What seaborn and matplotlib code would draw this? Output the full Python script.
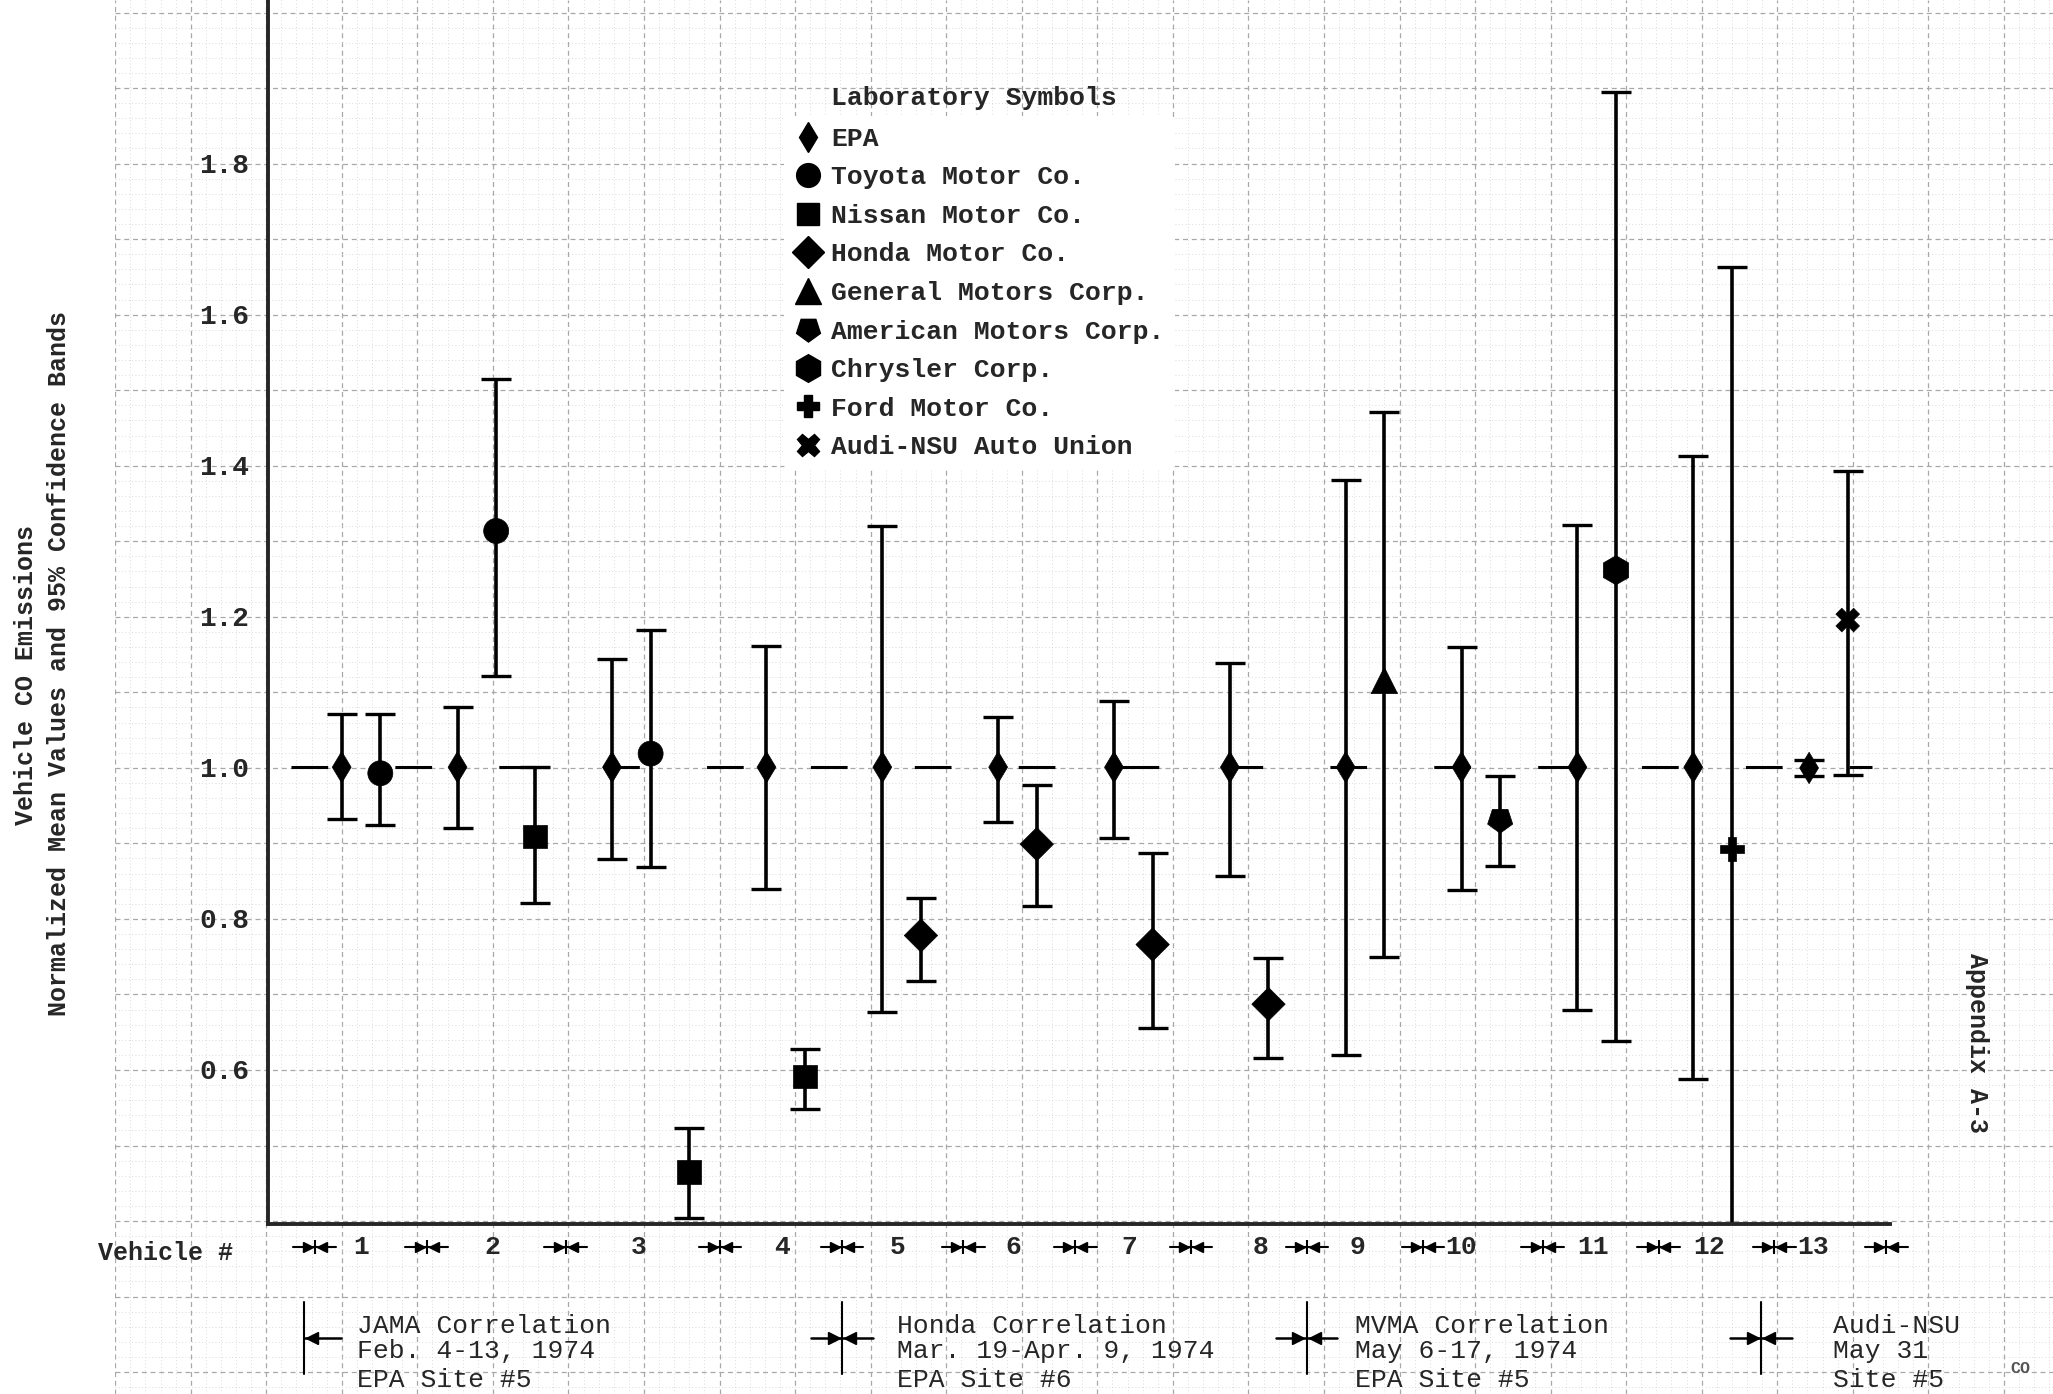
import numpy as np
import pandas as pd
import seaborn as sns
import matplotlib.pyplot as plt
from matplotlib.lines import Line2D
from matplotlib import transforms

# %% data
labs = ['EPA', 'Toyota Motor Co.', 'Nissan Motor Co.', 'Honda Motor Co.',
        'General Motors Corp.', 'American Motors Corp.', 'Chrysler Corp.',
        'Ford Motor Co.', 'Audi-NSU Auto Union']

# x position of each mean on the chart (one slot per laboratory test)
slot = [8, 9, 11, 12, 13, 15, 16, 17, 19, 20, 22, 23, 25, 26,
        28, 29, 31, 32, 34, 35, 37, 38, 40, 41, 43, 44, 46, 47]
lab = ['EPA', 'Toyota Motor Co.',
       'EPA', 'Toyota Motor Co.', 'Nissan Motor Co.',
       'EPA', 'Toyota Motor Co.', 'Nissan Motor Co.',
       'EPA', 'Nissan Motor Co.',
       'EPA', 'Honda Motor Co.',
       'EPA', 'Honda Motor Co.',
       'EPA', 'Honda Motor Co.',
       'EPA', 'Honda Motor Co.',
       'EPA', 'General Motors Corp.',
       'EPA', 'American Motors Corp.',
       'EPA', 'Chrysler Corp.',
       'EPA', 'Ford Motor Co.',
       'EPA', 'Audi-NSU Auto Union']
mean = [1.00, 0.992, 1.00, 1.313, 0.908, 1.00, 1.018, 0.464, 1.00, 0.590,
        1.00, 0.777, 1.00, 0.898, 1.00, 0.765, 1.00, 0.686, 1.00, 1.115,
        1.00, 0.930, 1.00, 1.261, 1.00, 0.892, 0.999, 1.195]
lower = [0.931, 0.923, 0.920, 1.121, 0.820, 0.879, 0.868, 0.403, 0.838, 0.547,
         0.676, 0.717, 0.927, 0.816, 0.906, 0.654, 0.856, 0.615, 0.618, 0.749,
         0.837, 0.869, 0.678, 0.637, 0.587, 0.300, 0.988, 0.990]
upper = [1.070, 1.070, 1.080, 1.514, 1.000, 1.143, 1.182, 0.522, 1.160, 0.626,
         1.320, 0.827, 1.067, 0.977, 1.088, 0.886, 1.138, 0.747, 1.381, 1.471,
         1.159, 0.989, 1.321, 1.895, 1.412, 1.663, 1.010, 1.392]

vehicle_slot = [8.5, 11.9, 15.7, 19.4, 22.4, 25.4, 28.4, 31.8, 34.3, 37.0, 40.4, 43.4, 46.1]
vehicle_label = ['1', '2', '3', '4', '5', '6', '7', '8', '9', '10', '11', '12', '13']
separator_slot = [7.3, 10.2, 13.8, 17.8, 20.95, 24.1, 27.0, 30.0, 33.0, 36.0, 39.1, 42.1, 45.1, 48.0]

reference_level = 1.0
ytick_values = [0.6, 0.8, 1.0, 1.2, 1.4, 1.6, 1.8]

programs = [['JAMA Correlation', 'Feb. 4-13, 1974', 'EPA Site #5'],
            ['Honda Correlation', 'Mar. 19-Apr. 9, 1974', 'EPA Site #6'],
            ['MVMA Correlation', 'May 6-17, 1974', 'EPA Site #5'],
            ['Audi-NSU', 'May 31', 'Site #5']]

df = pd.DataFrame({'slot': slot, 'lab': lab, 'mean': mean, 'lower': lower, 'upper': upper})

# %% style
sns.set_style('white')
plt.rcParams['font.family'] = ['Liberation Mono', 'DejaVu Sans Mono', 'DejaVu Sans']
plt.rcParams['font.weight'] = 'bold'

amc = (5, 0, 180)
marker_map = {'EPA': 'd', 'Toyota Motor Co.': 'o', 'Nissan Motor Co.': 's',
              'Honda Motor Co.': 'D', 'General Motors Corp.': '^',
              'American Motors Corp.': amc, 'Chrysler Corp.': 'h',
              'Ford Motor Co.': 'P', 'Audi-NSU Auto Union': 'X'}
ms_map = {'EPA': 16, 'Toyota Motor Co.': 18, 'Nissan Motor Co.': 17,
          'Honda Motor Co.': 17, 'General Motors Corp.': 19,
          'American Motors Corp.': 19, 'Chrysler Corp.': 21,
          'Ford Motor Co.': 17, 'Audi-NSU Auto Union': 17}

fig = plt.figure(figsize=(20.53, 13.94), dpi=100, facecolor='white')

# graph paper behind everything
bg = fig.add_axes([0.0561, 0.0, 0.9439, 1.0], zorder=0)
bg.set_xlim(88, 1568)
bg.set_ylim(0.171, 2.0166)
bg.set_xticks(np.arange(88, 1568, 57.7))
bg.set_xticks(np.arange(88, 1568, 11.54), minor=True)
bg.set_yticks(np.arange(0.2, 2.01, 0.1))
bg.set_yticks(np.arange(0.18, 2.01, 0.02), minor=True)
bg.tick_params(which='both', length=0, labelleft=False, labelbottom=False)
for s in bg.spines.values():
    s.set_visible(False)
bg.grid(which='major', color='#a8a8a8', lw=0.9, ls=(0, (4, 3)))
bg.grid(which='minor', color='#cfcfcf', lw=0.6, ls=(0, (1, 3)))

ax = fig.add_axes([0.1307, 0.1221, 0.79, 0.8779], zorder=1)
ax.set_facecolor('none')

# %% plot
ax.axhline(reference_level, xmin=0.0137, xmax=0.9887, color='black', lw=2.2,
           ls=(0, (12, 22)), zorder=1)
ax.errorbar(df['slot'], df['mean'],
            yerr=[df['mean'] - df['lower'], df['upper'] - df['mean']],
            fmt='none', ecolor='black', elinewidth=2.6, capsize=11, capthick=2.4, zorder=2)
sns.scatterplot(data=df, x='slot', y='mean', style='lab', markers=marker_map,
                size='lab', sizes={k: v ** 2 for k, v in ms_map.items()},
                color='black', edgecolor='black', linewidth=0.5,
                legend=False, ax=ax, zorder=3)

ax.set_xlim(6.1, 48.1)
ax.set_ylim(0.395, 2.0166)
ax.set_yticks(ytick_values, [f'{v:.1f}' for v in ytick_values])
ax.set_xticks(vehicle_slot, vehicle_label)
ax.tick_params(axis='y', length=0, pad=14, labelsize=20)
ax.tick_params(axis='x', length=0, pad=8, labelsize=19)
ax.set_xlabel('')
ax.set_ylabel('')
ax.spines['top'].set_visible(False)
ax.spines['right'].set_visible(False)
ax.spines['left'].set_linewidth(2.8)
ax.spines['bottom'].set_linewidth(2.8)

# separator glyphs between vehicle numbers
tr = transforms.blended_transform_factory(ax.transData, ax.transAxes)
for xs in separator_slot:
    ax.plot([xs - 0.55, xs + 0.55], [-0.0193, -0.0193], color='black', lw=1.5,
            transform=tr, clip_on=False)
    ax.plot([xs - 0.18], [-0.0193], marker='>', ms=7, color='black', transform=tr, clip_on=False)
    ax.plot([xs + 0.18], [-0.0193], marker='<', ms=7, color='black', transform=tr, clip_on=False)
    ax.plot([xs], [-0.0193], marker='|', ms=10, mew=1.5, color='black', transform=tr, clip_on=False)

# legend
handles = [Line2D([], [], ls='none', marker=marker_map[k], ms=ms_map[k] * 0.95,
                  color='black', mec='black') for k in labs]
leg = ax.legend(handles, labs, loc='upper left', bbox_to_anchor=(0.3819, 0.9165),
                bbox_transform=fig.transFigure, frameon=True, fontsize=19,
                handlelength=1.0, handletextpad=0.39, labelspacing=0.55,
                borderpad=0.4, borderaxespad=0)
leg.get_frame().set_facecolor('white')
leg.get_frame().set_edgecolor('none')
leg.get_frame().set_alpha(1)
fig.text(0.405, 0.9296, 'Laboratory Symbols', fontsize=19, va='center', ha='left', zorder=5)

# axis titles
fig.text(0.0128, 0.516, 'Vehicle CO Emissions', rotation=90, fontsize=18,
         ha='center', va='center')
fig.text(0.0287, 0.524, 'Normalized Mean Values and 95% Confidence Bands', rotation=90,
         fontsize=18, ha='center', va='center')
fig.text(0.0478, 0.1014, 'Vehicle #', fontsize=18, ha='left', va='center')
fig.text(0.963, 0.2516, 'Appendix A-3', rotation=-90, fontsize=18, ha='center', va='center')
fig.text(0.984, 0.018, 'CO', fontsize=12, color='#555555', ha='center', va='center')

# correlation programs along the bottom
text_x = [0.1741, 0.4368, 0.660, 0.8927]
sym_x = [0.148, 0.410, 0.6364, 0.8577]
line_y = [0.0485, 0.0305, 0.0100]
for k, prog in enumerate(programs):
    for t, yy in zip(prog, line_y):
        fig.text(text_x[k], yy, t, fontsize=19, ha='left', va='center', fontweight='normal')
    sx = sym_x[k]
    fig.add_artist(Line2D([sx, sx], [0.0141, 0.0657], color='black', lw=1.5,
                          transform=fig.transFigure))
    if k == 0:
        fig.add_artist(Line2D([sx, sx + 0.018], [0.0404, 0.0404], color='black', lw=1.8,
                              transform=fig.transFigure))
        fig.add_artist(Line2D([sx + 0.004], [0.0404], marker='<', ms=9, color='black',
                              transform=fig.transFigure))
    else:
        fig.add_artist(Line2D([sx - 0.015, sx + 0.015], [0.0404, 0.0404], color='black',
                              lw=1.8, transform=fig.transFigure))
        fig.add_artist(Line2D([sx - 0.004], [0.0404], marker='>', ms=8, color='black',
                              transform=fig.transFigure))
        fig.add_artist(Line2D([sx + 0.004], [0.0404], marker='<', ms=8, color='black',
                              transform=fig.transFigure))

plt.savefig('out.png', dpi=100)
